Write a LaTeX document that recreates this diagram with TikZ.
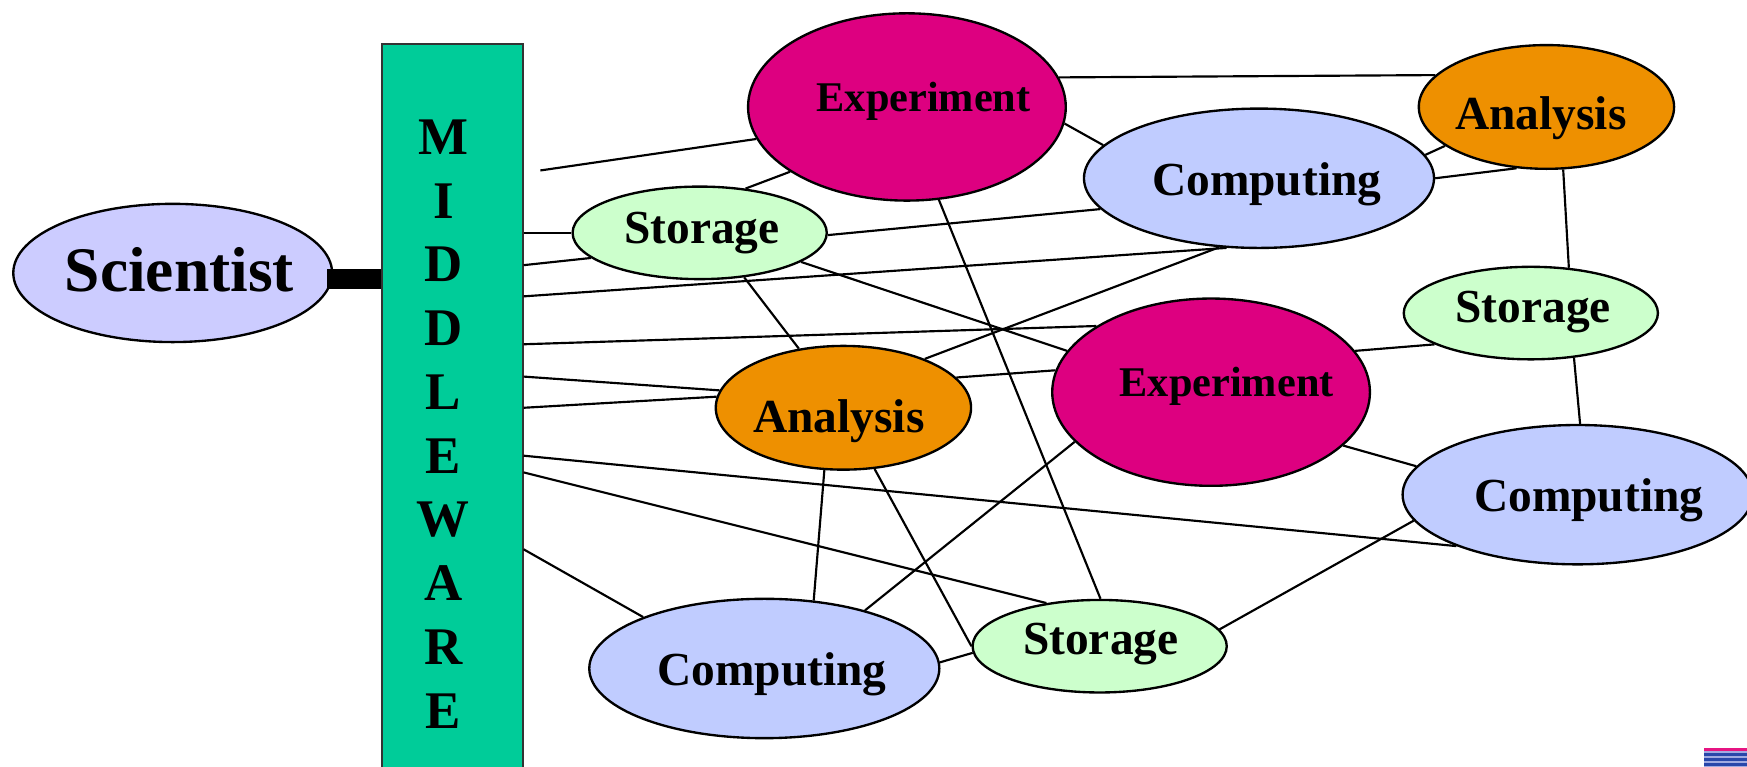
\documentclass[tikz,border=0pt]{standalone}
\usepackage{fontspec}
\setmainfont{Liberation Serif}
\usetikzlibrary{shapes.geometric}

\definecolor{sciFill}{RGB}{204,204,255}
\definecolor{compFill}{RGB}{192,204,255}
\definecolor{expFill}{RGB}{221,0,128}
\definecolor{anaFill}{RGB}{238,144,0}
\definecolor{storFill}{RGB}{204,255,204}
\definecolor{mwFill}{RGB}{0,204,153}
\definecolor{logoPink}{RGB}{230,20,130}
\definecolor{logoBlue}{RGB}{40,70,170}
\definecolor{logoLight}{RGB}{160,170,225}

\begin{document}
\begin{tikzpicture}
    [
        x=0.01cm, y=-0.01cm,
        Bubble/.style={ellipse,draw,line width=0.6pt,inner sep=0pt},
        Person/.style={Bubble,fill=sciFill,minimum width=2.86cm,minimum height=1.24cm},
        Experiment/.style={Bubble,fill=expFill,minimum width=2.85cm,minimum height=1.68cm},
        Computing/.style={Bubble,fill=compFill,minimum width=3.14cm,minimum height=1.25cm},
        Storage/.style={Bubble,fill=storFill,minimum width=2.28cm,minimum height=0.83cm},
        Analysis/.style={Bubble,fill=anaFill,minimum width=2.29cm,minimum height=1.11cm},
        Middleware/.style={rectangle,draw=black!80,line width=0.5pt,fill=mwFill,minimum width=1.26cm,minimum height=6.6cm,inner sep=0pt},
        Tag/.style={inner sep=0pt,font=\bfseries\fontsize{12.1}{14}\selectfont},
        SmallTag/.style={inner sep=0pt,font=\bfseries\fontsize{10.8}{13}\selectfont},
        BigTag/.style={inner sep=0pt,font=\bfseries\fontsize{16.2}{19}\selectfont},
        Letters/.style={inner sep=0pt,align=center,font=\bfseries\fontsize{13.5}{16.27}\selectfont},
        Link/.style={line width=0.55pt},
        Bar/.style={line width=0.18cm}
    ]
    \useasboundingbox (0,0) rectangle (1568,688);

    \node[Person,label={[BigTag,shift={(6,-3)}]center:Scientist}] (scientist) at (155,245) {};
    \node[Middleware] (middleware) at (406,370) {};
    \node[Letters] (middlewareText) at (398,380.5) {M\\I\\D\\D\\L\\E\\W\\A\\R\\E};

    \node[Experiment,label={[SmallTag,shift={(15,-5)}]center:Experiment}] (expTop) at (814,96) {};
    \node[Computing,label={[Tag,shift={(7,5)}]center:Computing}] (compTop) at (1130,160) {};
    \node[Analysis,label={[Tag,shift={(-5,10)}]center:Analysis}] (anaTop) at (1388,96) {};
    \node[Storage,label={[Tag,shift={(2,0)}]center:Storage}] (storLeft) at (628,209) {};
    \node[Storage,label={[Tag,shift={(2,-1)}]center:Storage}] (storRight) at (1374,281) {};
    \node[Experiment,label={[SmallTag,shift={(14,-5)}]center:Experiment}] (expMid) at (1087,352) {};
    \node[Analysis,label={[Tag,shift={(-4,12)}]center:Analysis}] (anaMid) at (757,366) {};
    \node[Computing,label={[Tag,shift={(10,5)}]center:Computing}] (compRight) at (1416,444) {};
    \node[Computing,label={[Tag,shift={(7,5)}]center:Computing}] (compBottom) at (686,600) {};
    \node[Storage,label={[Tag,shift={(1,-2)}]center:Storage}] (storBottom) at (987,580) {};

    \draw[Bar,shorten <=-0.05cm] (scientist.-2.8) -- (scientist.-2.8 -| middleware.west);

    \coordinate (portTop) at (485,153);
    \foreach \y [count=\i] in {209,238,266,309,338,366,409,424,493}
        \coordinate (port\i) at (middleware.east |- 0,\y);

    \draw[Link] (portTop) -- (expTop.192.6);
    \draw[Link] (storLeft.44) -- (expTop.209.6);
    \draw[Link] (expTop.11.8) -- (anaTop.164.2);
    \draw[Link] (expTop.-6) -- (compTop.168);
    \draw[Link] (compTop.8.5) -- (anaTop.201);
    \draw[Link] (compTop.east) -- (anaTop.244);
    \draw[Link] (port1) -- (storLeft.west);
    \draw[Link] (port2) -- (storLeft.193);
    \draw[Link] (storLeft.-1) -- (compTop.191);
    \draw[Link] (port3) -- (compTop.245.6);
    \draw[Link] (storLeft.-45) -- (anaMid.127);
    \draw[Link] (storLeft.-16.4) -- (expMid.164.2);
    \draw[Link] (expTop.-71) -- (storBottom.89);
    \draw[Link] (port4) -- (expMid.150.4);
    \draw[Link] (anaMid.31) -- (compTop.240.2);
    \draw[Link] (port5) -- (anaMid.172);
    \draw[Link] (port6) -- (anaMid.175);
    \draw[Link] (anaMid.15.3) -- (expMid.172.4);
    \draw[Link] (expMid.16.1) -- (storRight.198);
    \draw[Link] (anaTop.-75) -- (storRight.50);
    \draw[Link] (storRight.-46) -- (compRight.88.2);
    \draw[Link] (expMid.-22.6) -- (compRight.170.9);
    \draw[Link] (port7) -- (compRight.203.4);
    \draw[Link] (port8) -- (storBottom.141.7);
    \draw[Link] (port9) -- (compBottom.157);
    \draw[Link] (anaMid.253.8) -- (compBottom.54);
    \draw[Link] (anaMid.-63) -- (storBottom.180);
    \draw[Link] (compBottom.30.4) -- (expMid.200.5);
    \draw[Link] (compBottom.2) -- (storBottom.183);
    \draw[Link] (storBottom.8.5) -- (compRight.189.2);

    \fill[logoLight] (1529,671) rectangle (1568,688);
    \fill[logoPink] (1529,671) rectangle (1568,674);
    \fill[logoBlue] (1529,676) rectangle (1568,678.5);
    \fill[logoBlue] (1529,680.5) rectangle (1568,683);
    \fill[logoBlue] (1529,685) rectangle (1568,687.5);
\end{tikzpicture}
\end{document}
